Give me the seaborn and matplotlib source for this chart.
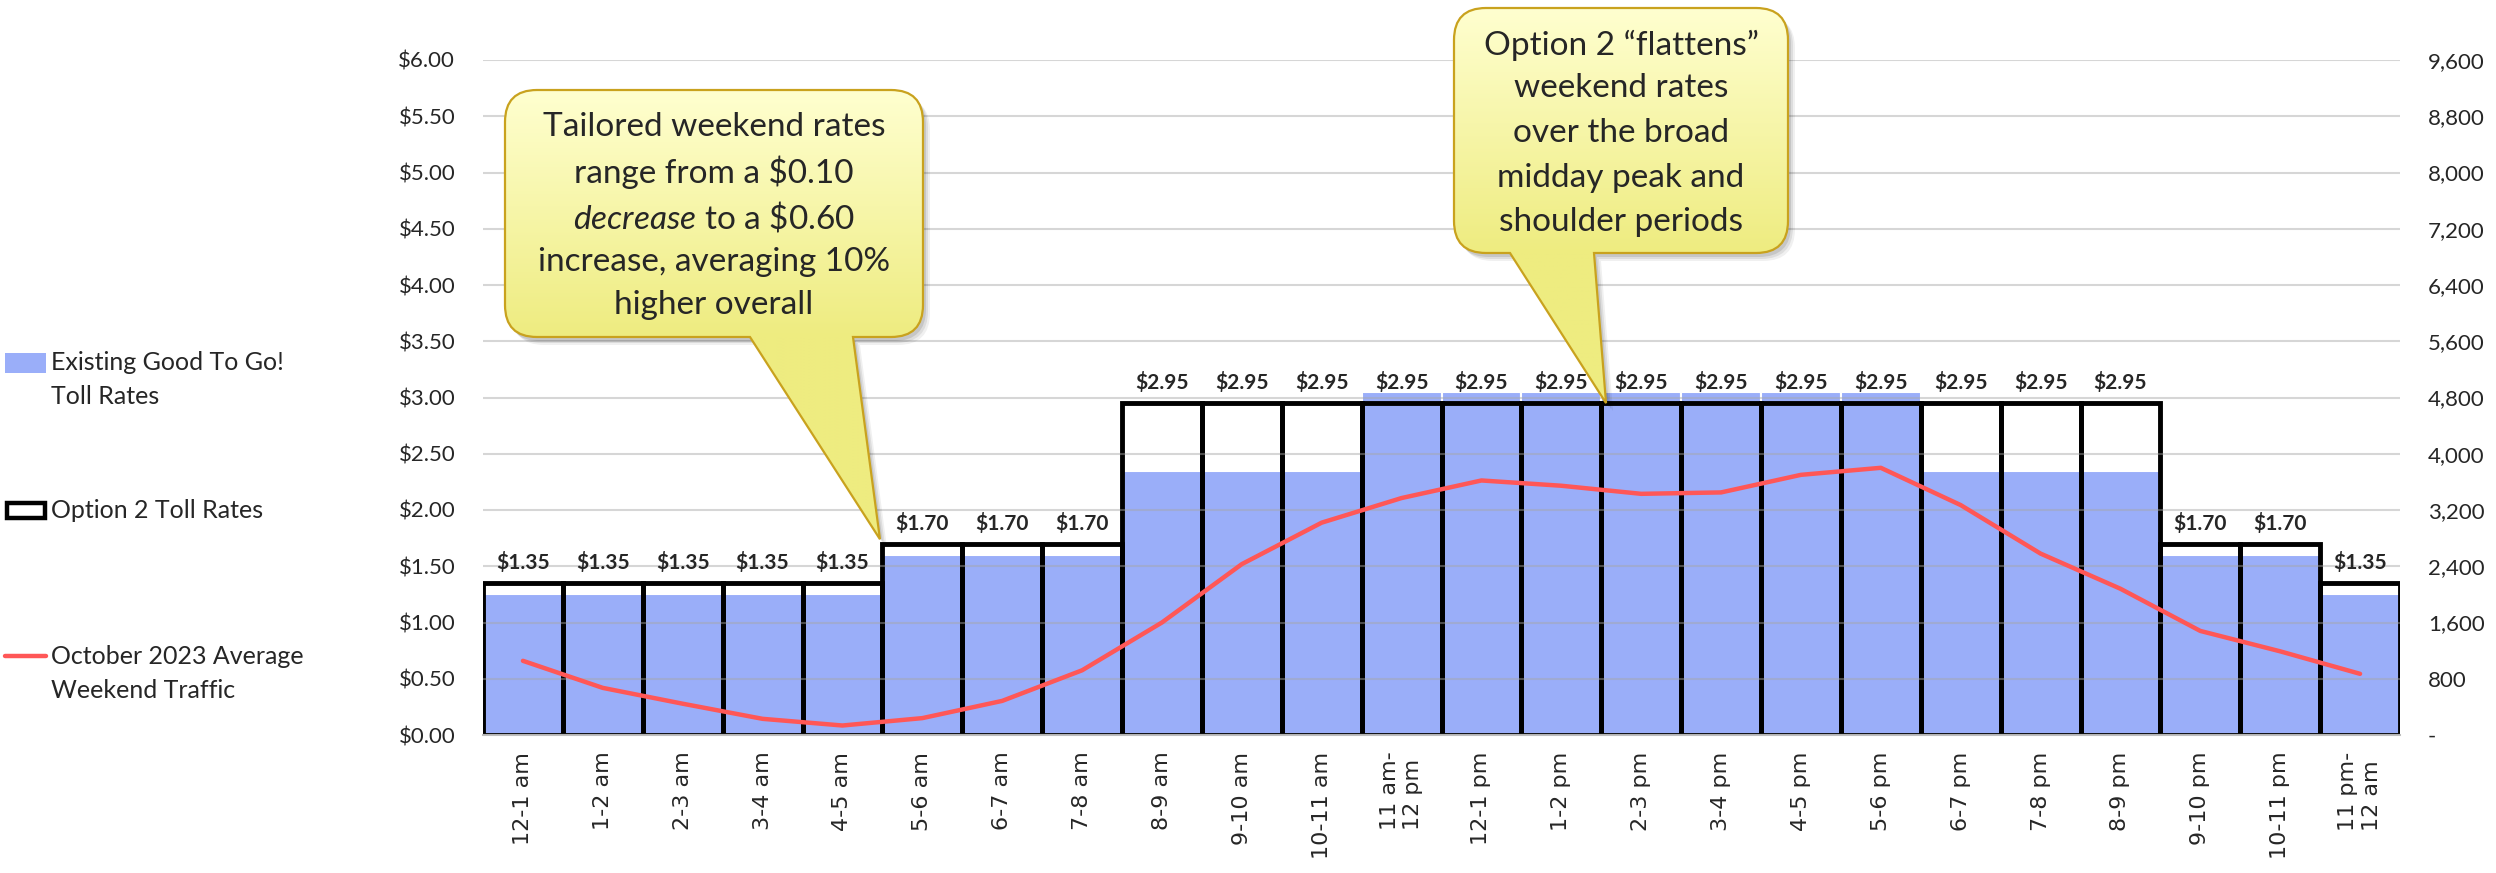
import numpy as np
import pandas as pd
import matplotlib.pyplot as plt
import seaborn as sns
from matplotlib.path import Path
from matplotlib.patches import PathPatch, Rectangle

# hourly weekend toll data
hours = ["12-1 am", "1-2 am", "2-3 am", "3-4 am", "4-5 am", "5-6 am", "6-7 am", "7-8 am",
         "8-9 am", "9-10 am", "10-11 am", "11 am-\n12 pm", "12-1 pm", "1-2 pm", "2-3 pm",
         "3-4 pm", "4-5 pm", "5-6 pm", "6-7 pm", "7-8 pm", "8-9 pm", "9-10 pm", "10-11 pm",
         "11 pm-\n12 am"]
existing_rates = [1.25, 1.25, 1.25, 1.25, 1.25, 1.60, 1.60, 1.60, 2.35, 2.35, 2.35, 3.05,
                  3.05, 3.05, 3.05, 3.05, 3.05, 3.05, 2.35, 2.35, 2.35, 1.60, 1.60, 1.25]
option2_rates = [1.35, 1.35, 1.35, 1.35, 1.35, 1.70, 1.70, 1.70, 2.95, 2.95, 2.95, 2.95,
                 2.95, 2.95, 2.95, 2.95, 2.95, 2.95, 2.95, 2.95, 2.95, 1.70, 1.70, 1.35]
traffic = [1055, 670, 445, 230, 135, 240, 485, 920, 1600, 2430, 3020, 3370,
           3620, 3545, 3430, 3450, 3700, 3800, 3270, 2580, 2080, 1480, 1190, 870]

legend_labels = ["Existing Good To Go!\nToll Rates", "Option 2 Toll Rates",
                 "October 2023 Average\nWeekend Traffic"]
note_left = ["Tailored weekend rates", "range from a $0.10",
             r"$\mathit{decrease}$ to a \$0.60", "increase, averaging 10%", "higher overall"]
note_right = ["Option 2 \u201cflattens\u201d", "weekend rates", "over the broad",
              "midday peak and", "shoulder periods"]

df = pd.DataFrame({"hour": hours, "existing": existing_rates,
                   "option2": option2_rates, "traffic": traffic})

blue = "#9AAEF9"
red = "#FF5757"

sns.set_style("white")
plt.rcParams["font.family"] = ["Lato", "DejaVu Sans"]
plt.rcParams["mathtext.fontset"] = "custom"
plt.rcParams["mathtext.rm"] = "Lato"
plt.rcParams["mathtext.it"] = "Lato:italic"

W, H = 2496, 873
fig = plt.figure(figsize=(W / 100, H / 100), dpi=100)
ax = fig.add_axes([483 / W, 1 - 735 / H, (2400 - 483) / W, 675 / H])

# existing rates as filled bars, option 2 as black outlines on top
sns.barplot(data=df, x="hour", y="existing", color=blue, saturation=1, width=1.0,
            edgecolor="white", linewidth=1.5, ax=ax)
sns.barplot(data=df, x="hour", y="option2", color="black", fill=False, width=1.0,
            linewidth=3.5, ax=ax)

for i, v in enumerate(option2_rates):
    ax.annotate(f"${v:.2f}", (i, v), xytext=(0, 7), textcoords="offset points",
                ha="center", va="bottom", fontsize=15, fontweight="bold")

ax.set_ylim(0, 6)
ax.set_yticks(np.arange(0, 6.01, 0.5))
ax.set_yticklabels([f"${t:.2f}" for t in np.arange(0, 6.01, 0.5)], fontsize=16)
ax.set_xticks(range(len(hours)))
ax.set_xticklabels(hours, rotation=90, fontsize=16, family="DejaVu Sans",
                   multialignment="left")
ax.set_xlabel("")
ax.set_ylabel("")
ax.tick_params(axis="y", length=0, pad=20)
ax.tick_params(axis="x", length=0, pad=12)
ax.yaxis.grid(True, color="#a6a6a6", alpha=0.45, linewidth=1.5)
ax.set_axisbelow(False)
for s in ["left", "right", "top"]:
    ax.spines[s].set_visible(False)
ax.spines["bottom"].set_color("#bfbfbf")
ax.spines["bottom"].set_linewidth(1.5)

# traffic line on the right axis
ax2 = ax.twinx()
sns.lineplot(x=np.arange(len(hours)), y=df["traffic"], color=red, linewidth=3.2, ax=ax2)
ax2.set_ylim(0, 9600)
ax2.set_yticks(np.arange(0, 9601, 800))
ax2.set_yticklabels(["-" if t == 0 else f"{t:,}" for t in np.arange(0, 9601, 800)],
                    fontsize=16)
ax2.set_ylabel("")
ax2.tick_params(axis="y", length=0, pad=20)
ax2.grid(False)
for s in ax2.spines.values():
    s.set_visible(False)
ax.set_xlim(-0.5, len(hours) - 0.5)

# overlay in pixel coordinates for legend and callouts
ov = fig.add_axes([0, 0, 1, 1], zorder=5)
ov.patch.set_alpha(0)
ov.axis("off")


def callout(box, base, tip_data, lines, line_y, cx):
    x0, y0, x1, y1 = box
    r = 32
    tx, ty = ax.transData.transform(tip_data)
    ty = H - ty
    verts = [(x0 + r, y0), (x1 - r, y0), (x1, y0), (x1, y0 + r), (x1, y1 - r), (x1, y1),
             (x1 - r, y1), (base[1], y1), (tx, ty), (base[0], y1), (x0 + r, y1), (x0, y1),
             (x0, y1 - r), (x0, y0 + r), (x0, y0), (x0 + r, y0), (x0 + r, y0)]
    codes = [Path.MOVETO, Path.LINETO, Path.CURVE3, Path.CURVE3, Path.LINETO, Path.CURVE3,
             Path.CURVE3, Path.LINETO, Path.LINETO, Path.LINETO, Path.LINETO, Path.CURVE3,
             Path.CURVE3, Path.LINETO, Path.CURVE3, Path.CURVE3, Path.CLOSEPOLY]
    verts = np.array(verts, dtype=float)
    # soft shadow
    for dx, dy, a in [(7, 8, 0.06), (5, 6, 0.08), (3, 4, 0.10)]:
        ov.add_patch(PathPatch(Path(verts + [dx, dy], codes), fc="black", ec="none", alpha=a))
    clip = PathPatch(Path(verts, codes), fc="none", ec="none")
    ov.add_patch(clip)
    ymax = max(ty, y1)
    yy = np.linspace(y0, ymax, 300)
    t = np.clip((yy - y0) / (y1 - y0), 0, 1)[:, None]
    top = np.array([255, 255, 208]) / 255
    bot = np.array([238, 236, 128]) / 255
    img = (top * (1 - t) + bot * t)[:, None, :]
    im = ov.imshow(img, extent=(x0, x1, ymax, y0), origin="upper", aspect="auto", zorder=2)
    im.set_clip_path(clip)
    ov.add_patch(PathPatch(Path(verts, codes), fc="none", ec="#C9A21E", lw=1.6, zorder=3))
    for txt, y in zip(lines, line_y):
        ov.text(cx, y, txt, ha="center", va="center", fontsize=24, zorder=4)


callout((505, 90, 923, 337), (750, 853), (4.47, 1.74), note_left,
        [127, 172, 217, 262, 305], 714)
callout((1454, 8, 1788, 253), (1510, 1594), (13.56, 2.95), note_right,
        [45, 88, 133, 178, 222], 1621)

# legend drawn by hand to keep the spread-out Excel layout
ov.add_patch(Rectangle((5, 353), 41, 20, fc=blue, ec="none"))
ov.add_patch(Rectangle((7, 503), 38, 15, fc="white", ec="black", lw=3.2))
ov.plot([5, 46], [656, 656], color=red, lw=3.2, solid_capstyle="round")
leg_lines = legend_labels[0].split("\n") + [legend_labels[1]] + legend_labels[2].split("\n")
for txt, y in zip(leg_lines, [363, 397, 510, 656, 690]):
    ov.text(51, y, txt, ha="left", va="center", fontsize=18)

ov.set_xlim(0, W)
ov.set_ylim(H, 0)

fig.savefig("out.png", dpi=100)
